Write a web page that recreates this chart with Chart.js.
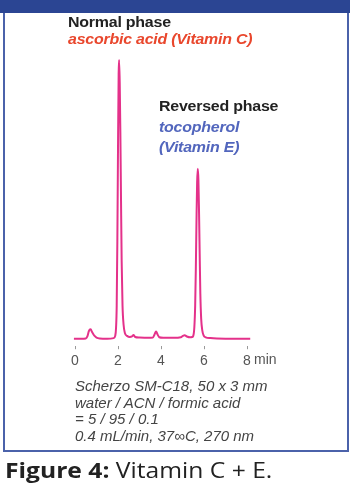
<!DOCTYPE html>
<html>
<head>
<meta charset="utf-8">
<script src="https://cdn.jsdelivr.net/npm/chart.js@4.4.1/dist/chart.umd.min.js"></script>
<style>
  html, body { margin: 0; padding: 0; background: #fff; }
  #page { position: relative; width: 350px; height: 486px; overflow: hidden; }
  #topbar { position: absolute; left: 0; top: 0; width: 350px; height: 13px; background: #2b4593; }
  #frame { position: absolute; left: 3px; top: 13px; width: 342px; height: 437px;
    border-left: 2px solid #4b62aa; border-right: 2px solid #4b62aa; border-bottom: 2px solid #4b62aa; }
  #chart-wrap { position: absolute; left: 0; top: 0; width: 350px; height: 486px; }
  .lbl { position: absolute; white-space: nowrap; font-family: "Liberation Sans", Arial, sans-serif;
    line-height: 14px; font-size: 14px; transform: scaleX(1.14); transform-origin: left top; }
  .head { color: #222; font-weight: bold; letter-spacing: -0.2px; }
  .red { color: #e9472d; font-weight: bold; font-style: italic; letter-spacing: -0.2px; }
  .blue { color: #5266bd; font-weight: bold; font-style: italic; letter-spacing: -0.2px; }
  #notes { position: absolute; left: 75px; top: 378px; font-family: "Liberation Sans", Arial, sans-serif;
    font-style: italic; font-size: 15px; line-height: 16.7px; color: #444; white-space: nowrap; }
  #unit { position: absolute; left: 254px; top: 352px; font-family: "Liberation Sans", Arial, sans-serif;
    font-size: 14px; line-height: 14px; color: #555; }
  #caption { position: absolute; left: 5px; top: 458px; font-family: "Open Sans", sans-serif;
    font-size: 22px; line-height: 22px; color: #222; white-space: nowrap;
    transform: scaleX(1.12); transform-origin: left top; }
  #caption b { font-weight: 700; }
</style>
</head>
<body>
<div id="page">
  <div id="topbar"></div>
  <div id="frame"></div>
  <div id="chart-wrap"><canvas id="chart"></canvas></div>
  <div class="lbl head" style="left:68px; top:15px;">Normal phase</div>
  <div class="lbl red" style="left:68px; top:32px;">ascorbic acid (Vitamin C)</div>
  <div class="lbl head" style="left:159px; top:99px;">Reversed phase</div>
  <div class="lbl blue" style="left:159px; top:120px;">tocopherol</div>
  <div class="lbl blue" style="left:159px; top:140px;">(Vitamin E)</div>
  <div id="unit">min</div>
  <div id="notes">Scherzo SM-C18, 50 x 3 mm<br>water / ACN / formic acid<br>= 5 / 95 / 0.1<br>0.4 mL/min, 37∞C, 270 nm</div>
  <div id="caption"><b>Figure 4:</b> Vitamin C + E.</div>
</div>
<script>
// retention time (min) and detector signal
const times = [
  -0.05, 0.30, 0.50, 0.58, 0.64, 0.69, 0.73, 0.78, 0.84, 0.91, 1.00, 1.15, 1.50,
  1.80, 1.87, 1.91, 1.94, 1.97, 2.00, 2.03, 2.05, 2.08, 2.11, 2.14, 2.17, 2.21, 2.26, 2.32, 2.42,
  2.55, 2.65, 2.72, 2.80, 3.00, 3.40, 3.62, 3.70, 3.77, 3.84, 3.92, 4.10, 4.60,
  4.92, 5.02, 5.10, 5.20, 5.35, 5.45, 5.50, 5.55, 5.59, 5.62, 5.65, 5.68, 5.71, 5.74,
  5.77, 5.80, 5.83, 5.87, 5.92, 5.98, 6.08, 6.30, 7.00, 8.15
];
const signal = [
  0, 0, 0.1, 0.9, 2.6, 3.3, 3.4, 2.6, 1.8, 1.0, 0.4, 0.1, 0,
  0.2, 1, 4, 12, 35, 68, 95, 100, 92, 74, 50, 28, 12, 5, 2, 1,
  0.6, 0.8, 1.3, 0.6, 0.4, 0.3, 0.4, 1.5, 2.6, 1.5, 0.5, 0.3, 0.3,
  0.5, 1.0, 1.2, 0.8, 0.5, 0.6, 1, 4, 12, 25, 42, 56, 61, 57,
  45, 30, 16, 7, 3, 1.2, 0.5, 0.2, 0, 0
];
const tickValues = [0, 2, 4, 6, 8];

const points = times.map((t, i) => ({ x: t, y: signal[i] }));

new Chart(document.getElementById('chart'), {
  type: 'line',
  data: {
    datasets: [{
      data: points,
      borderColor: '#e4318a',
      borderWidth: 2,
      pointRadius: 0,
      cubicInterpolationMode: 'monotone',
      clip: false
    }]
  },
  options: {
    responsive: true,
    maintainAspectRatio: false,
    animation: false,
    layout: { padding: { left: 75, right: 103, top: 60, bottom: 112 } },
    plugins: { legend: { display: false }, tooltip: { enabled: false } },
    scales: {
      x: {
        type: 'linear',
        min: 0,
        max: 8,
        afterBuildTicks: (axis) => { axis.ticks = tickValues.map(v => ({ value: v })); },
        border: { display: false },
        grid: { drawOnChartArea: false, tickLength: 3, color: '#999', lineWidth: 1 },
        ticks: { color: '#555', padding: 4, font: { family: 'Liberation Sans', size: 14 }, maxRotation: 0 }
      },
      y: {
        display: false,
        min: -2.7,
        max: 100
      }
    }
  }
});
</script>
</body>
</html>
